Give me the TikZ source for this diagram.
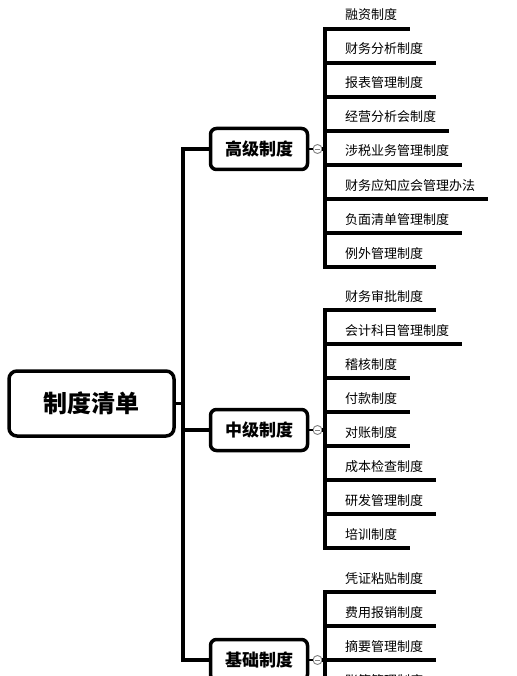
\documentclass[tikz,border=0pt]{standalone}
\usepackage{fontspec}
\setmainfont{Noto Sans CJK SC}
\usetikzlibrary{positioning}

\tikzset{
  rootbox/.style={draw, fill=white, line width=3.5pt, rounded corners=8pt,
    minimum width=165pt, minimum height=65pt, inner sep=0pt,
    font=\bfseries\fontsize{24}{28}\selectfont},
  levelbox/.style={draw, fill=white, line width=3.5pt, rounded corners=6pt,
    minimum width=97pt, minimum height=41pt, inner sep=0pt,
    font=\bfseries\fontsize{17}{20}\selectfont},
  leaf/.style={anchor=west, inner xsep=13pt, inner ysep=0pt,
    text height=11pt, text depth=2pt, font=\fontsize{13}{15}\selectfont},
  wire/.style={line width=3.5pt},
  stem/.style={line width=3.5pt, line cap=rect},
  toggle/.style={circle, draw=gray, fill=white, line width=0.9pt,
    minimum size=9pt, inner sep=0pt,
    path picture={\draw[line width=0.8pt]
      ([xshift=-2.5pt]path picture bounding box.center) --
      ([xshift=2.5pt]path picture bounding box.center);}},
}

\begin{document}
\begin{tikzpicture}[x=1pt, y=-1pt]
    \useasboundingbox (0,0) rectangle (516,676);
    \clip (0,0) rectangle (516,676);

    % Root and the three levels
    \node[rootbox] (root) at (91.5,403.5) {制度清单};
    \node[levelbox] (hi) at (259,149) {高级制度};
    \node[levelbox] (mid) at (259,430) {中级制度};
    \node[levelbox] (base) at (259,660) {基础制度};

    % Main trunk
    \coordinate (top) at (183,149);
    \coordinate (bot) at (183,660);
    \draw[wire] (hi.west) -- (top) -- (bot) -- (base.west);
    \draw[wire] (root.east) -- (root.east -| top);
    \draw[wire] (mid.west) -- (mid.west -| top);

    % Toggles next to each level
    \node[toggle] (hi-t) at (317.5,149) {};
    \node[toggle] (mid-t) at (317.5,430) {};
    \node[toggle] (base-t) at (317.5,660) {};
    \draw[line width=2pt] (hi.east) -- (hi-t);
    \draw[line width=2pt] (mid.east) -- (mid-t);
    \draw[line width=2pt] (base.east) -- (base-t);

    % High level branch
    \foreach \txt [count=\i] in {融资制度, 财务分析制度, 报表管理制度, 经营分析会制度,
        涉税业务管理制度, 财务应知应会管理办法, 负面清单管理制度, 例外管理制度} {
        \coordinate (h\i) at (325,{29+34*(\i-1)});
        \node[leaf] (hl\i) at (332,{15.5+34*(\i-1)}) {\txt};
        \draw[wire] (h\i) -- (h\i -| hl\i.east);
    }
    \draw[stem] (h1) -- (h8);
    \draw[wire] (hi-t) -- (hi-t -| h1);

    % Middle level branch
    \foreach \txt [count=\i] in {财务审批制度, 会计科目管理制度, 稽核制度, 付款制度,
        对账制度, 成本检查制度, 研发管理制度, 培训制度} {
        \coordinate (m\i) at (325,{310+34*(\i-1)});
        \node[leaf] (ml\i) at (332,{296.5+34*(\i-1)}) {\txt};
        \draw[wire] (m\i) -- (m\i -| ml\i.east);
    }
    \draw[stem] (m1) -- (m8);
    \draw[wire] (mid-t) -- (mid-t -| m1);

    % Base level branch
    \foreach \txt [count=\i] in {凭证粘贴制度, 费用报销制度, 摘要管理制度, 账簿管理制度} {
        \coordinate (b\i) at (325,{592+34*(\i-1)});
        \node[leaf] (bl\i) at (332,{578.5+34*(\i-1)}) {\txt};
        \draw[wire] (b\i) -- (b\i -| bl\i.east);
    }
    \draw[stem] (b1) -- (b4);
    \draw[wire] (base-t) -- (base-t -| b1);
\end{tikzpicture}
\end{document}
